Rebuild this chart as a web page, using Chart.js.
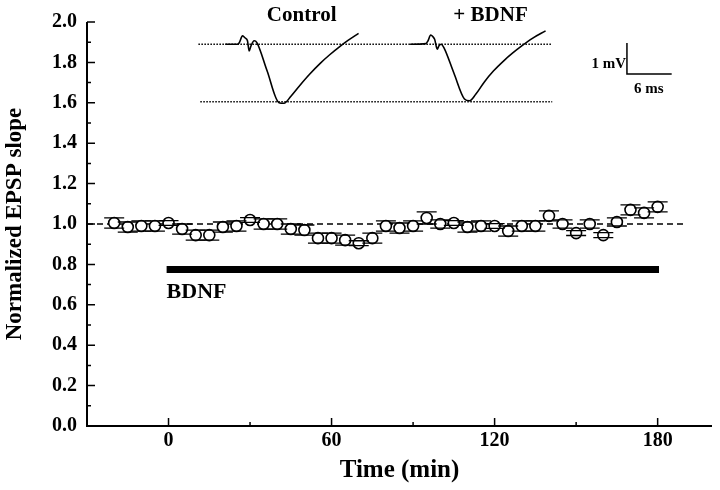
<!DOCTYPE html>
<html>
<head>
<meta charset="utf-8">
<script src="https://cdn.jsdelivr.net/npm/chart.js@4.4.0/dist/chart.umd.min.js"></script>
<style>
  html, body { margin:0; padding:0; background:#fff; }
</style>
</head>
<body>
<canvas id="epspChart" width="720" height="490"></canvas>
<script>
// time course (min) and normalized EPSP slope, mean and s.e.m.
const times = [-20,-15,-10,-5,0,5,10,15,20,25,30,35,40,45,50,55,60,65,70,75,80,85,90,95,100,
               105,110,115,120,125,130,135,140,145,150,155,160,165,170,175,180];
const slope = [1.005,0.985,0.99,0.99,1.005,0.975,0.945,0.945,0.985,0.99,1.02,1.0,1.0,0.975,0.97,
               0.93,0.93,0.92,0.905,0.93,0.99,0.98,0.99,1.03,1.0,1.005,0.985,0.99,0.99,0.965,
               0.99,0.99,1.04,1.0,0.955,1.0,0.945,1.01,1.07,1.055,1.085];
const sem   = [0.025,0.025,0.025,0.025,0.012,0.025,0.025,0.025,0.025,0.025,0.012,0.025,0.025,0.025,0.025,
               0.025,0.025,0.025,0.012,0.025,0.025,0.025,0.025,0.03,0.02,0.012,0.025,0.025,0.012,0.025,
               0.025,0.025,0.025,0.02,0.012,0.02,0.012,0.02,0.025,0.025,0.025];

const xTicks = [0,60,120,180];
const xMinor = [30,90,150];
const yTicks = [0,0.2,0.4,0.6,0.8,1.0,1.2,1.4,1.6,1.8,2.0];
const yMinor = [0.1,0.3,0.5,0.7,0.9,1.1,1.3,1.5,1.7,1.9];

const baseline = 1.0;
const bdnfOn = 0, bdnfOff = 180, bdnfLevel = 0.775;

// sample EPSP traces: time (ms) and voltage (mV) from baseline
const controlMs = [0,1.6,1.87,2.31,2.67,2.97,3.2,3.43,3.87,4.23,5.6,7.2,7.87,8.8,10.1,11.3,12.76,14.0,15.43,16.5,17.87];
const controlMv = [0,0,0.05,0.27,0.2,0.11,-0.22,-0.06,0.11,0.05,-0.86,-1.89,-1.91,-1.68,-1.30,-0.97,-0.61,-0.34,-0.06,0.13,0.35];
const bdnfMs = [0,2.13,2.4,2.76,3.07,3.29,3.64,3.87,4.17,4.53,5.87,7.29,7.96,8.8,9.96,11.2,12.63,13.73,14.84,16.4,18.17];
const bdnfMv = [0,0.02,0.11,0.30,0.24,0.16,-0.16,-0.05,0,-0.11,-0.93,-1.77,-1.83,-1.62,-1.22,-0.86,-0.52,-0.29,-0.08,0.19,0.43];
const scaleBarMs = 6, scaleBarMv = 1;

// inset placement in axis units
const msUnit = 2.744, mvUnit = 0.1531;
const controlAt = {x: 20.9, y: 1.89};
const bdnfAt = {x: 88.9, y: 1.89};
const insetTop = 1.89, insetBottom = 1.605, insetFrom = 11, insetTo = 141.2;
const barCorner = {x: 168.7, y: 1.743};

const SERIF = '"Liberation Serif", "DejaVu Serif", serif';

function toTrace(ms, mv, at) {
    return ms.map((t, i) => ({x: at.x + t * msUnit, y: at.y + mv[i] * mvUnit}));
}

const lineDs = (data, extra) => Object.assign({
    type: 'line', data, borderColor: '#000', borderWidth: 1.6, pointRadius: 0,
    fill: false, clip: false, tension: 0
}, extra);

const decor = {
    id: 'decor',
    afterDatasetsDraw(chart) {
        const {ctx, scales: {x, y}} = chart;
        ctx.save();
        ctx.strokeStyle = '#000';
        ctx.lineWidth = 1.3;
        const r = 5.5;
        times.forEach((t, i) => {
            const px = x.getPixelForValue(t);
            const py = y.getPixelForValue(slope[i]);
            const top = y.getPixelForValue(slope[i] + sem[i]);
            const bot = y.getPixelForValue(slope[i] - sem[i]);
            ctx.beginPath();
            if (py - top > r) { ctx.moveTo(px, top); ctx.lineTo(px, py - r); ctx.moveTo(px, py + r); ctx.lineTo(px, bot); }
            ctx.moveTo(px - 10, top); ctx.lineTo(px + 10, top);
            ctx.moveTo(px - 10, bot); ctx.lineTo(px + 10, bot);
            ctx.stroke();
        });
        ctx.restore();
    },
    afterDraw(chart) {
        const {ctx, chartArea: a, scales: {x, y}} = chart;
        ctx.save();
        ctx.strokeStyle = '#000';
        ctx.lineWidth = 2;
        ctx.beginPath();
        ctx.moveTo(a.left, a.top); ctx.lineTo(a.left, a.bottom); ctx.lineTo(a.right, a.bottom);
        ctx.stroke();
        ctx.lineWidth = 1.5;
        ctx.beginPath();
        xTicks.forEach(v => { const p = x.getPixelForValue(v); ctx.moveTo(p, a.bottom); ctx.lineTo(p, a.bottom - 8); });
        xMinor.forEach(v => { const p = x.getPixelForValue(v); ctx.moveTo(p, a.bottom); ctx.lineTo(p, a.bottom - 4); });
        yTicks.forEach(v => { const p = y.getPixelForValue(v); ctx.moveTo(a.left, p); ctx.lineTo(a.left + 8, p); });
        yMinor.forEach(v => { const p = y.getPixelForValue(v); ctx.moveTo(a.left, p); ctx.lineTo(a.left + 4, p); });
        ctx.stroke();

        ctx.fillStyle = '#000';
        ctx.textBaseline = 'alphabetic';
        ctx.font = 'bold 21px ' + SERIF;
        ctx.textAlign = 'center';
        ctx.fillText('Control', x.getPixelForValue(49), y.getPixelForValue(2.005));
        ctx.fillText('+ BDNF', x.getPixelForValue(118.5), y.getPixelForValue(2.005));
        ctx.textAlign = 'left';
        ctx.font = 'bold 22px ' + SERIF;
        ctx.fillText('BDNF', x.getPixelForValue(bdnfOn - 0.7), y.getPixelForValue(0.632));
        ctx.font = 'bold 15px ' + SERIF;
        ctx.textAlign = 'right';
        ctx.fillText('1 mV', x.getPixelForValue(barCorner.x - 0.3), y.getPixelForValue(1.773));
        ctx.textAlign = 'center';
        ctx.fillText('6 ms', x.getPixelForValue(barCorner.x + 8), y.getPixelForValue(1.649));
        ctx.restore();
    }
};

new Chart(document.getElementById('epspChart'), {
    type: 'scatter',
    data: {
        datasets: [
            {
                data: times.map((t, i) => ({x: t, y: slope[i]})),
                showLine: false, pointRadius: 5.5, pointHoverRadius: 5.5,
                pointBackgroundColor: '#fff', pointBorderColor: '#000', pointBorderWidth: 1.6
            },
            lineDs([{x: -30, y: baseline}, {x: 190, y: baseline}], {borderDash: [6, 4], borderWidth: 1.6}),
            lineDs([{x: bdnfOn - 0.7, y: bdnfLevel}, {x: bdnfOff + 0.5, y: bdnfLevel}], {borderWidth: 7, borderCapStyle: 'butt'}),
            lineDs(toTrace(controlMs, controlMv, controlAt), {cubicInterpolationMode: 'monotone'}),
            lineDs(toTrace(bdnfMs, bdnfMv, bdnfAt), {cubicInterpolationMode: 'monotone'}),
            lineDs([{x: insetFrom, y: insetTop}, {x: insetTo, y: insetTop}], {borderDash: [1.5, 1.5], borderWidth: 1.4}),
            lineDs([{x: insetFrom + 0.7, y: insetBottom}, {x: insetTo, y: insetBottom}], {borderDash: [1.5, 1.5], borderWidth: 1.4}),
            lineDs([
                {x: barCorner.x, y: barCorner.y + scaleBarMv * mvUnit},
                {x: barCorner.x, y: barCorner.y},
                {x: barCorner.x + scaleBarMs * msUnit, y: barCorner.y}
            ], {borderWidth: 1.5})
        ]
    },
    options: {
        responsive: false,
        animation: false,
        events: [],
        layout: {padding: {top: 21, right: 8, left: 0, bottom: 0}},
        plugins: {legend: {display: false}, tooltip: {enabled: false}},
        scales: {
            x: {
                type: 'linear', min: -30, max: 200,
                afterBuildTicks: s => { s.ticks = xTicks.map(v => ({value: v})); },
                afterFit: s => { s.height = 64; },
                grid: {display: false, drawTicks: false},
                border: {display: false},
                ticks: {color: '#000', padding: 3, font: {family: SERIF, size: 20, weight: 'bold'},
                        callback: v => String(v)},
                title: {display: true, text: 'Time (min)', color: '#000', padding: {top: 4, bottom: 4},
                        font: {family: SERIF, size: 25, weight: 'bold'}}
            },
            y: {
                type: 'linear', min: 0, max: 2,
                afterBuildTicks: s => { s.ticks = yTicks.map(v => ({value: v})); },
                afterFit: s => { s.width = 87; },
                grid: {display: false, drawTicks: false},
                border: {display: false},
                ticks: {color: '#000', padding: 10, font: {family: SERIF, size: 20, weight: 'bold'},
                        callback: v => v.toFixed(1)},
                title: {display: true, text: 'Normalized EPSP slope', color: '#000', padding: {top: 1, bottom: 1},
                        font: {family: SERIF, size: 23, weight: 'bold'}}
            }
        }
    },
    plugins: [decor]
});
</script>
</body>
</html>
